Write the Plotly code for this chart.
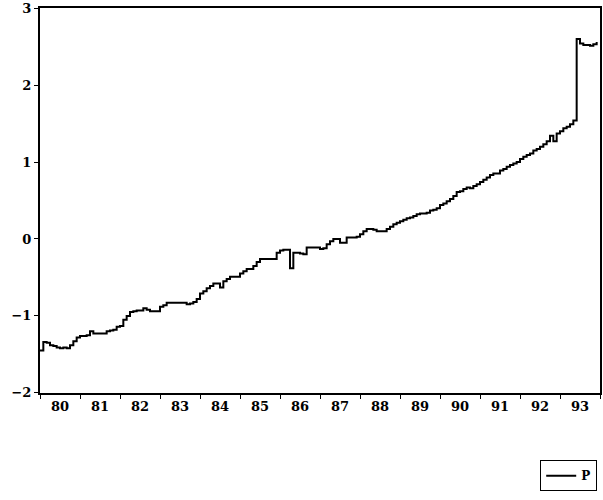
import plotly.graph_objects as go

# Monthly series P, Jan 1980 .. Dec 1993
years = list(range(1980, 1994))
year_labels = ["80", "81", "82", "83", "84", "85", "86", "87", "88", "89", "90", "91", "92", "93"]
y_ticks = [-2, -1, 0, 1, 2, 3]
y_tick_labels = ["\u22122", "\u22121", "0", "1", "2", "3"]

p_1980 = [-1.45, -1.34, -1.35, -1.38, -1.39, -1.41, -1.42, -1.41, -1.42, -1.38, -1.33, -1.28]
p_1981 = [-1.26, -1.26, -1.25, -1.20, -1.23, -1.23, -1.23, -1.23, -1.20, -1.19, -1.18, -1.14]
p_1982 = [-1.13, -1.05, -1.00, -0.95, -0.94, -0.93, -0.93, -0.90, -0.92, -0.94, -0.94, -0.94]
p_1983 = [-0.88, -0.86, -0.83, -0.83, -0.83, -0.83, -0.83, -0.83, -0.85, -0.84, -0.82, -0.78]
p_1984 = [-0.71, -0.68, -0.64, -0.61, -0.58, -0.58, -0.63, -0.55, -0.52, -0.49, -0.49, -0.49]
p_1985 = [-0.45, -0.42, -0.39, -0.39, -0.35, -0.30, -0.26, -0.26, -0.26, -0.26, -0.26, -0.18]
p_1986 = [-0.15, -0.14, -0.14, -0.38, -0.18, -0.18, -0.19, -0.20, -0.11, -0.11, -0.11, -0.11]
p_1987 = [-0.13, -0.12, -0.07, -0.03, 0.00, 0.00, -0.05, -0.05, 0.02, 0.02, 0.02, 0.03]
p_1988 = [0.06, 0.10, 0.13, 0.13, 0.12, 0.10, 0.10, 0.10, 0.13, 0.16, 0.19, 0.21]
p_1989 = [0.23, 0.25, 0.27, 0.28, 0.30, 0.32, 0.33, 0.33, 0.34, 0.37, 0.38, 0.40]
p_1990 = [0.44, 0.46, 0.49, 0.52, 0.56, 0.61, 0.62, 0.65, 0.67, 0.66, 0.69, 0.71]
p_1991 = [0.74, 0.77, 0.80, 0.83, 0.85, 0.85, 0.89, 0.91, 0.94, 0.96, 0.98, 1.00]
p_1992 = [1.04, 1.07, 1.09, 1.11, 1.15, 1.17, 1.20, 1.23, 1.27, 1.34, 1.27, 1.37]
p_1993 = [1.40, 1.44, 1.46, 1.49, 1.54, 2.60, 2.54, 2.52, 2.52, 2.51, 2.53, 2.56]

p_values = (p_1980 + p_1981 + p_1982 + p_1983 + p_1984 + p_1985 + p_1986 +
            p_1987 + p_1988 + p_1989 + p_1990 + p_1991 + p_1992 + p_1993)
t = [1980 + i / 12 for i in range(len(p_values))]

font_family = "DejaVu Serif"

fig = go.Figure()
fig.add_trace(go.Scatter(
    x=t, y=p_values, mode="lines", name="P",
    line=dict(color="black", width=2, shape="hv"),
))

fig.update_layout(
    width=603, height=500,
    margin=dict(l=40, r=3, t=8, b=107),
    paper_bgcolor="white", plot_bgcolor="white",
    font=dict(family=font_family, size=13, color="black", weight="bold"),
    showlegend=True,
    legend=dict(
        x=0.995, y=-0.255, xanchor="right", yanchor="bottom",
        bordercolor="black", borderwidth=1, bgcolor="white",
        font=dict(size=12, family=font_family),
        itemwidth=30,
    ),
    xaxis=dict(
        range=[1980, 1994], automargin=False,
        tickvals=[y + 0.5 for y in years], ticktext=year_labels,
        ticks="", showgrid=False, zeroline=False,
        showline=True, linecolor="black", linewidth=2, mirror=True,
        minor=dict(ticks="outside", tick0=1980, dtick=1, ticklen=4,
                   tickcolor="black", showgrid=False),
    ),
    yaxis=dict(
        range=[-2.002, 3.002], automargin=False,
        tickvals=y_ticks, ticktext=y_tick_labels,
        ticks="outside", ticklen=4, tickcolor="black",
        ticklabeloverflow="allow",
        showgrid=False, zeroline=False,
        showline=True, linecolor="black", linewidth=2, mirror=True,
    ),
)

fig.write_html("out.html")
